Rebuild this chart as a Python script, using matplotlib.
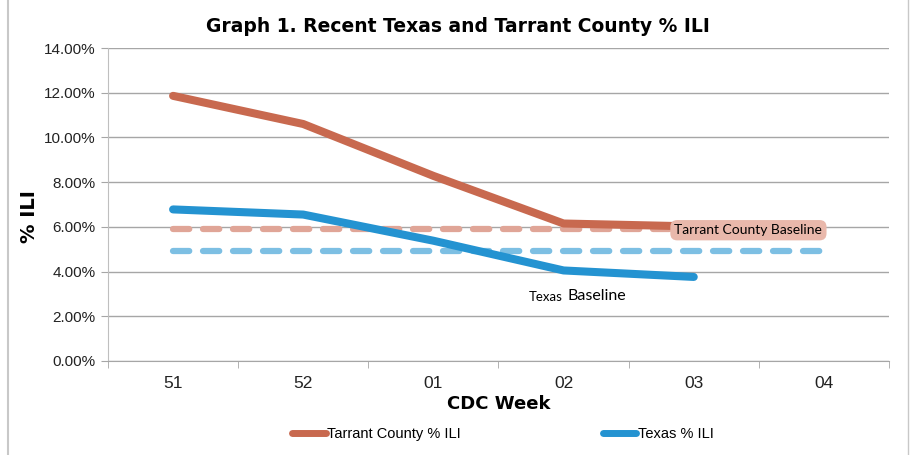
import numpy as np
import matplotlib.pyplot as plt
from matplotlib.lines import Line2D

weeks = ['51', '52', '01', '02', '03', '04']
tarrant = [11.86, 10.6, 8.28, 6.15, 6.02]
texas = [6.78, 6.55, 5.38, 4.05, 3.76]
tarrant_base = [5.9] * 6
texas_base = [4.92] * 6
yticks = [0, 2, 4, 6, 8, 10, 12, 14]

red = '#C8694F'
blue = '#2493D1'
red_light = '#E0A597'
blue_light = '#7DBFE3'

plt.rcParams['font.family'] = ['Liberation Sans', 'DejaVu Sans']
heavy = ['DejaVu Sans']

fig = plt.figure(figsize=(9.1, 4.55), dpi=100)
ax = fig.add_axes([108/910, 1-361/455, (889-108)/910, (361-48)/455])

x = np.arange(len(weeks))
lw_base = 4.5
ax.plot(x, tarrant_base, color=red_light, lw=lw_base, dash_capstyle='round',
        dashes=(2.6, 2.2), zorder=3)
ax.plot(x, texas_base, color=blue_light, lw=lw_base, dash_capstyle='round',
        dashes=(2.6, 2.2), zorder=3)
ax.plot(x[:len(tarrant)], tarrant, color=red, lw=5.8, solid_capstyle='round',
        solid_joinstyle='round', zorder=4)
ax.plot(x[:len(texas)], texas, color=blue, lw=5.8, solid_capstyle='round',
        solid_joinstyle='round', zorder=4)

ax.text(4.42, 5.85, 'Tarrant County Baseline', family=['Lato', 'DejaVu Sans'],
        fontsize=10, ha='center', va='center', zorder=6,
        bbox=dict(boxstyle='round,pad=0.3,rounding_size=0.5',
                  fc='#E9B8AB', ec='none'))
ax.text(2.73, 2.85, 'Texas', family=['Lato', 'DejaVu Sans'], fontsize=9.5,
        ha='left', va='center', zorder=6)
ax.text(3.03, 2.9, 'Baseline', family=['Lato', 'DejaVu Sans'], fontsize=11.5,
        ha='left', va='center', zorder=6)

ax.set_xlim(-0.5, 5.5)
ax.set_ylim(0, 14)
ax.set_yticks(yticks)
ax.set_yticklabels(['%.2f%%' % v for v in yticks], fontsize=11, color='#222222')
ax.set_xticks(x)
ax.set_xticklabels(weeks, fontsize=12.5, color='#222222')
ax.set_xticks(np.arange(-0.5, 6, 1), minor=True)
ax.tick_params(axis='x', which='major', length=0, pad=11)
ax.tick_params(axis='x', which='minor', length=5, color='#A6A6A6', direction='out')
ax.tick_params(axis='y', length=5, color='#A6A6A6', pad=4)
ax.grid(axis='y', color='#A6A6A6', lw=1)
ax.set_axisbelow(True)
for s in ['top', 'right']:
    ax.spines[s].set_visible(False)
ax.spines['left'].set_color('#BFBFBF')
ax.spines['bottom'].set_color('#A6A6A6')

fig.suptitle('Graph 1. Recent Texas and Tarrant County % ILI', x=458/910,
             y=1-27/455, va='center', fontsize=13.5, fontweight='bold',
             family=heavy)
ax.set_ylabel('% ILI', fontsize=14, fontweight='bold', family=heavy)
ax.yaxis.set_label_coords(-0.088, 0.46)
ax.set_xlabel('CDC Week', fontsize=13, fontweight='bold', family=heavy,
              labelpad=3)

handles = [Line2D([], [], color=red, lw=5, solid_capstyle='round'),
           Line2D([], [], color=blue, lw=5, solid_capstyle='round')]
fig.legend(handles, ['Tarrant County % ILI', 'Texas % ILI'], ncol=2,
           loc='center', bbox_to_anchor=(503/910, 1-434/455), frameon=False,
           fontsize=10.5, handlelength=2.3, handletextpad=0.1, columnspacing=9.7)

# sheet frame lines
fig.add_artist(Line2D([8/910, 8/910], [0, 1], color='#C8C8C8', lw=1.5))
fig.add_artist(Line2D([908/910, 908/910], [0, 1], color='#C8C8C8', lw=1))

fig.savefig('out.png', dpi=100)
